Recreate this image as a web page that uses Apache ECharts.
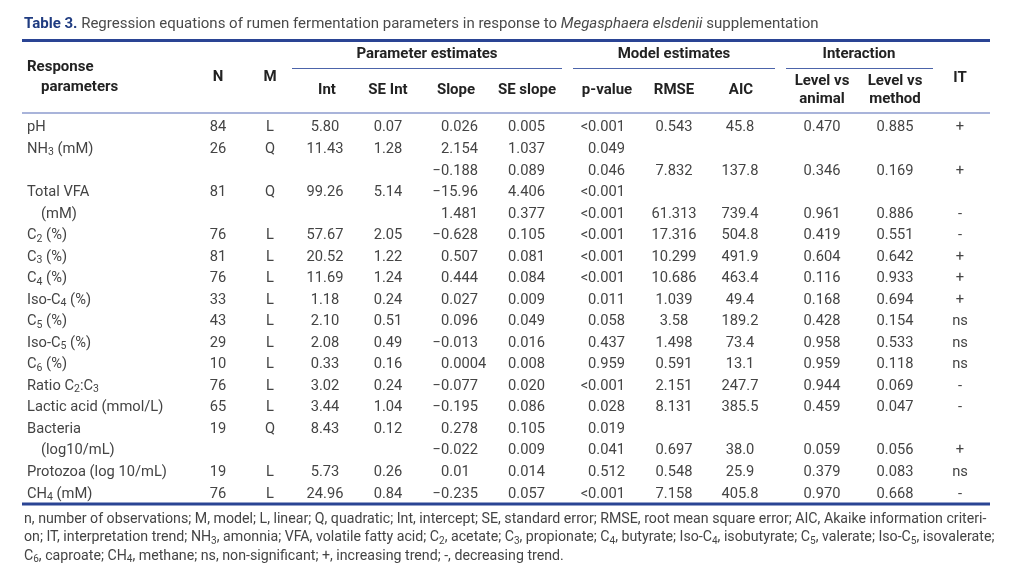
<!DOCTYPE html>
<html><head><meta charset="utf-8">
<script src="https://cdn.jsdelivr.net/npm/echarts@6/dist/echarts.min.js"></script>
<style>html,body{margin:0;padding:0;background:#fff}#c{width:1024px;height:578px}</style>
</head><body><div id="c"></div>
<script>
// ---------- DATA ----------
const responseParams = ['pH','NH_3 (mM)','','Total VFA','(mM)','C_2 (%)','C_3 (%)','C_4 (%)','Iso-C_4 (%)','C_5 (%)','Iso-C_5 (%)','C_6 (%)','Ratio C_2:C_3','Lactic acid (mmol/L)','Bacteria','(log10/mL)','Protozoa (log 10/mL)','CH_4 (mM)'];
const nObs    = ['84','26','','81','','76','81','76','33','43','29','10','76','65','19','','19','76'];
const model   = ['L','Q','','Q','','L','L','L','L','L','L','L','L','L','Q','','L','L'];
const intercept = ['5.80','11.43','','99.26','','57.67','20.52','11.69','1.18','2.10','2.08','0.33','3.02','3.44','8.43','','5.73','24.96'];
const seInt   = ['0.07','1.28','','5.14','','2.05','1.22','1.24','0.24','0.51','0.49','0.16','0.24','1.04','0.12','','0.26','0.84'];
const slope   = ['0.026','2.154','−0.188','−15.96','1.481','−0.628','0.507','0.444','0.027','0.096','−0.013','0.0004','−0.077','−0.195','0.278','−0.022','0.01','−0.235'];
const seSlope = ['0.005','1.037','0.089','4.406','0.377','0.105','0.081','0.084','0.009','0.049','0.016','0.008','0.020','0.086','0.105','0.009','0.014','0.057'];
const pValue  = ['<0.001','0.049','0.046','<0.001','<0.001','<0.001','<0.001','<0.001','0.011','0.058','0.437','0.959','<0.001','0.028','0.019','0.041','0.512','<0.001'];
const rmse    = ['0.543','','7.832','','61.313','17.316','10.299','10.686','1.039','3.58','1.498','0.591','2.151','8.131','','0.697','0.548','7.158'];
const aic     = ['45.8','','137.8','','739.4','504.8','491.9','463.4','49.4','189.2','73.4','13.1','247.7','385.5','','38.0','25.9','405.8'];
const levelVsAnimal = ['0.470','','0.346','','0.961','0.419','0.604','0.116','0.168','0.428','0.958','0.959','0.944','0.459','','0.059','0.379','0.970'];
const levelVsMethod = ['0.885','','0.169','','0.886','0.551','0.642','0.933','0.694','0.154','0.533','0.118','0.069','0.047','','0.056','0.083','0.668'];
const trend   = ['+','','+','','-','-','+','+','+','ns','ns','ns','-','-','','+','ns','-'];

const titleText = ['Table 3.', 'Regression equations of rumen fermentation parameters in response to', 'Megasphaera elsdenii', 'supplementation'];
const groupHeaders = ['Parameter estimates','Model estimates','Interaction'];
const footnotes = [
  'n, number of observations; M, model; L, linear; Q, quadratic; Int, intercept; SE, standard error; RMSE, root mean square error; AIC, Akaike information criteri-',
  'on; IT, interpretation trend; NH_3, amonnia; VFA, volatile fatty acid; C_2, acetate; C_3, propionate; C_4, butyrate; Iso-C_4, isobutyrate; C_5, valerate; Iso-C_5, isovalerate;',
  'C_6, caproate; CH_4, methane; ns, non-significant; +, increasing trend; -, decreasing trend.'
];

// ---------- STYLE / LAYOUT ----------
const FONT = 'Roboto, "Noto Sans", sans-serif';
const TXT = '#444444';
const HDR = '#222222';
const NAVY = '#2a4494';
const THIN = '#4c64aa';
const LIGHT = '#a9b4da';
const DATA_FS = 14.7;

function richify(s){ return s.replace(/_(\d)/g, '{s|$1}'); }
const subRich = (size) => ({ s: { fontSize: size, lineHeight: size, verticalAlign: 'bottom', fontFamily: FONT, fill: TXT } });

const columns = [
  { values: responseParams, x: 27, align: 'left', label: true },
  { values: nObs, x: 218, align: 'center' },
  { values: model, x: 270, align: 'center' },
  { values: intercept, x: 325, align: 'center' },
  { values: seInt, x: 388, align: 'center' },
  { values: slope, x: 441, align: 'hang' },
  { values: seSlope, x: 508, align: 'left' },
  { values: pValue, x: 625, align: 'right' },
  { values: rmse, x: 674, align: 'center' },
  { values: aic, x: 740, align: 'center' },
  { values: levelVsAnimal, x: 822, align: 'center' },
  { values: levelVsMethod, x: 895, align: 'center' },
  { values: trend, x: 960, align: 'center' }
];

function txt(text, x, y, align, opts) {
  opts = opts || {};
  return {
    type: 'text', x: x, y: y, silent: true,
    style: Object.assign({
      text: text, align: align, verticalAlign: 'middle',
      fontFamily: FONT, fontSize: DATA_FS, fill: TXT, lineHeight: 18
    }, opts)
  };
}

function renderItem(params, api) {
  const r = api.value(1);
  const children = [];
  columns.forEach(col => {
    const v = col.values[r];
    if (!v) return;
    const pt = api.coord([col.x, r]);
    let x = pt[0]; const y = pt[1];
    if (col.label) {
      if (v.charAt(0) === '(') x += 14;
      children.push(txt(richify(v), x, y, 'left', { rich: subRich(10.5) }));
    } else if (col.align === 'hang') {
      if (v.charAt(0) === '−') {
        children.push(txt('−', x, y, 'right'));
        children.push(txt(v.slice(1), x, y, 'left'));
      } else {
        children.push(txt(v, x, y, 'left'));
      }
    } else {
      children.push(txt(v, x, y, col.align));
    }
  });
  return { type: 'group', children: children };
}

// header graphics
function htxt(text, x, y, align) {
  return { type: 'text', x: x, y: y, silent: true,
    style: { text: text, align: align, verticalAlign: 'middle', fontFamily: FONT, fontSize: 15, fontWeight: 'bold', fill: HDR } };
}
function hline(x1, x2, y, w, c) {
  return { type: 'line', silent: true, shape: { x1: x1, y1: y, x2: x2, y2: y }, style: { stroke: c, lineWidth: w } };
}

const graphics = [
  hline(22, 990, 40.5, 3, NAVY),
  hline(292, 562, 68.5, 1, THIN),
  hline(573, 775, 68.5, 1, THIN),
  hline(786, 933, 68.5, 1, THIN),
  hline(22, 990, 113, 2, LIGHT),
  hline(22, 990, 504, 3, NAVY),
  htxt('Response', 27, 67, 'left'),
  htxt('parameters', 41, 87, 'left'),
  htxt('N', 218, 77, 'center'),
  htxt('M', 270, 77, 'center'),
  htxt(groupHeaders[0], 427, 54, 'center'),
  htxt(groupHeaders[1], 674, 54, 'center'),
  htxt(groupHeaders[2], 859, 54, 'center'),
  htxt('Int', 327, 90, 'center'),
  htxt('SE Int', 388, 90, 'center'),
  htxt('Slope', 456, 90, 'center'),
  htxt('SE slope', 527, 90, 'center'),
  htxt('p-value', 607, 90, 'center'),
  htxt('RMSE', 674, 90, 'center'),
  htxt('AIC', 741, 90, 'center'),
  htxt('Level vs', 822, 81, 'center'),
  htxt('animal', 822, 99, 'center'),
  htxt('Level vs', 895, 81, 'center'),
  htxt('method', 895, 99, 'center'),
  htxt('IT', 960, 78, 'center')
];
footnotes.forEach((f, i) => {
  graphics.push({ type: 'text', x: 24, y: 519 + i * 18.5, silent: true,
    style: { text: richify(f), align: 'left', verticalAlign: 'middle', fontFamily: FONT, fontSize: 14.2, fill: TXT, lineHeight: 17,
      rich: { s: { fontSize: 10, lineHeight: 10, verticalAlign: 'bottom', fontFamily: FONT, fill: TXT } } } });
});

const chart = echarts.init(document.getElementById('c'), null, { renderer: 'canvas' });
chart.setOption({
  animation: false,
  backgroundColor: '#ffffff',
  title: {
    text: '{b|' + titleText[0] + '} ' + titleText[1] + ' {i|' + titleText[2] + '} ' + titleText[3],
    left: 24, top: 14, padding: 0,
    textStyle: {
      fontFamily: FONT, fontSize: 15, fontWeight: 'normal', color: '#4a4a4a', lineHeight: 20,
      rich: {
        b: { fontFamily: FONT, fontSize: 15, fontWeight: 'bold', color: '#1f3b80', lineHeight: 20 },
        i: { fontFamily: FONT, fontSize: 15, fontStyle: 'italic', color: '#4a4a4a', lineHeight: 20 }
      }
    }
  },
  grid: { left: 0, right: 0, top: 117, bottom: 73.4 },
  xAxis: { type: 'value', min: 0, max: 1024, show: false },
  yAxis: { type: 'value', min: -0.5, max: 17.5, inverse: true, show: false },
  series: [{
    type: 'custom',
    renderItem: renderItem,
    data: responseParams.map((_, i) => [0, i]),
    clip: false,
    silent: true
  }],
  graphic: graphics
});
</script>
</body></html>
